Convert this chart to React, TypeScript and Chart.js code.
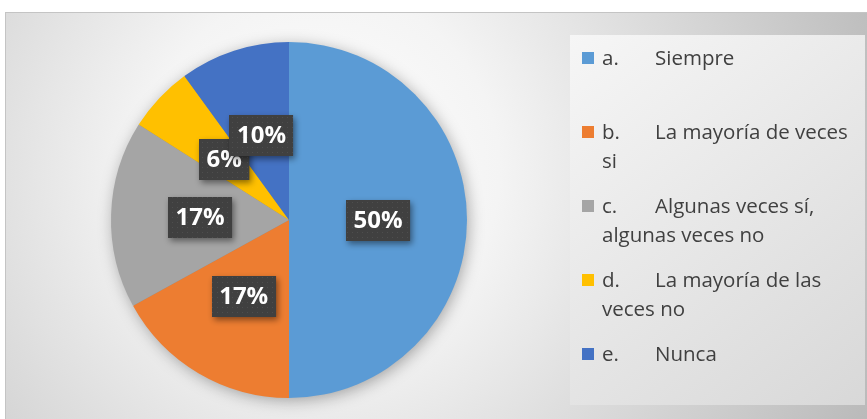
import React, { useEffect, useRef } from "react";
import { Chart, registerables } from "chart.js";

Chart.register(...registerables);

const letters = ["a.", "b.", "c.", "d.", "e."];
const answers = [
  "Siempre",
  "La mayoría de veces si",
  "Algunas veces sí, algunas veces no",
  "La mayoría de las veces no",
  "Nunca",
];
const percents = [50, 17, 17, 6, 10];
const colors = ["#5B9BD5", "#ED7D31", "#A5A5A5", "#FFC000", "#4472C4"];

const W = 867;
const H = 419;
const FONT = "'Open Sans', Lato, sans-serif";

function makePattern(ctx: CanvasRenderingContext2D) {
  const c = document.createElement("canvas");
  c.width = 5;
  c.height = 5;
  const p = c.getContext("2d")!;
  p.fillStyle = "#404040";
  p.fillRect(0, 0, 5, 5);
  p.fillStyle = "#4e4e4e";
  p.fillRect(2, 2, 1, 1);
  return ctx.createPattern(c, "repeat");
}

export default function App() {
  const ref = useRef<HTMLCanvasElement>(null);

  useEffect(() => {
    document.body.style.margin = "0";
    const canvas = ref.current!;

    const decor = {
      id: "decor",
      beforeDraw(chart: any) {
        const ctx: CanvasRenderingContext2D = chart.ctx;
        ctx.save();
        ctx.fillStyle = "#ffffff";
        ctx.fillRect(0, 0, W, H);
        const g = ctx.createRadialGradient(320, 170, 0, 320, 170, 600);
        g.addColorStop(0, "#ffffff");
        g.addColorStop(0.3, "#f4f4f4");
        g.addColorStop(1, "#bababa");
        ctx.fillStyle = g;
        ctx.fillRect(5, 12, W - 5, H - 12);
        ctx.strokeStyle = "#c4c4c4";
        ctx.lineWidth = 1;
        ctx.strokeRect(5.5, 12.5, W, H);
        const lg = ctx.createLinearGradient(570, 35, 865, 405);
        lg.addColorStop(0, "#f6f6f6");
        lg.addColorStop(1, "#d8d8d8");
        ctx.fillStyle = lg;
        ctx.fillRect(570, 35, 295, 370);
        ctx.restore();
      },
      beforeDatasetsDraw(chart: any) {
        const ctx: CanvasRenderingContext2D = chart.ctx;
        const arc = chart.getDatasetMeta(0).data[0];
        if (!arc) return;
        const { x, y, outerRadius } = arc.getProps(["x", "y", "outerRadius"], true);
        ctx.save();
        ctx.shadowColor = "rgba(0,0,0,0.35)";
        ctx.shadowBlur = 16;
        ctx.shadowOffsetX = 2;
        ctx.shadowOffsetY = 3;
        ctx.fillStyle = "#888";
        ctx.beginPath();
        ctx.arc(x, y, outerRadius - 1, 0, Math.PI * 2);
        ctx.fill();
        ctx.restore();
      },
      afterDatasetsDraw(chart: any) {
        const ctx: CanvasRenderingContext2D = chart.ctx;
        const pattern = makePattern(ctx);
        const meta = chart.getDatasetMeta(0);
        ctx.save();
        ctx.font = `bold 24px ${FONT}`;
        meta.data.forEach((el: any, i: number) => {
          const pos = el.tooltipPosition(true);
          const text = `${percents[i]}%`;
          const w = ctx.measureText(text).width + 15;
          const h = 41;
          const bx = Math.round(pos.x - w / 2);
          const by = Math.round(pos.y - h / 2);
          ctx.save();
          ctx.shadowColor = "rgba(0,0,0,0.45)";
          ctx.shadowBlur = 6;
          ctx.shadowOffsetX = 2;
          ctx.shadowOffsetY = 3;
          ctx.fillStyle = pattern || "#404040";
          ctx.fillRect(bx, by, w, h);
          ctx.restore();
          ctx.fillStyle = "#ffffff";
          ctx.textAlign = "center";
          ctx.textBaseline = "middle";
          ctx.fillText(text, pos.x, pos.y + 1);
        });
        ctx.restore();
      },
      afterDraw(chart: any) {
        const ctx: CanvasRenderingContext2D = chart.ctx;
        ctx.save();
        ctx.font = `20.5px ${FONT}`;
        ctx.textBaseline = "middle";
        ctx.textAlign = "left";
        const lineH = 29;
        const limit = 856;
        const wrapped = answers.map((ans) => {
          const words = ans.split(" ");
          const lines: string[] = [];
          let line = "";
          let start = 655;
          words.forEach((wd) => {
            const test = line ? line + " " + wd : wd;
            if (line && start + ctx.measureText(test).width > limit) {
              lines.push(line);
              line = wd;
              start = 602;
            } else {
              line = test;
            }
          });
          if (line) lines.push(line);
          return lines;
        });
        const maxLines = Math.max(...wrapped.map((l) => l.length));
        const slot = maxLines * lineH + 16;
        wrapped.forEach((lines, i) => {
          const top = 45 + i * slot;
          ctx.fillStyle = colors[i];
          ctx.fillRect(582, top + 7, 12, 12);
          ctx.fillStyle = "#404040";
          ctx.fillText(letters[i], 602, top + 14.5);
          lines.forEach((ln, k) => {
            ctx.fillText(ln, k === 0 ? 655 : 602, top + 14.5 + k * lineH);
          });
        });
        ctx.restore();
      },
    };

    const chart = new Chart(canvas, {
      type: "pie",
      data: {
        labels: answers,
        datasets: [
          {
            data: percents,
            backgroundColor: colors,
            borderWidth: 0,
          },
        ],
      },
      options: {
        responsive: false,
        animation: false,
        layout: { padding: { left: 111, right: 400, top: 42, bottom: 21 } },
        plugins: {
          legend: { display: false },
          tooltip: { enabled: false },
        },
      },
      plugins: [decor],
    });
    return () => chart.destroy();
  }, []);

  return <canvas ref={ref} width={W} height={H} style={{ display: "block" }} />;
}
